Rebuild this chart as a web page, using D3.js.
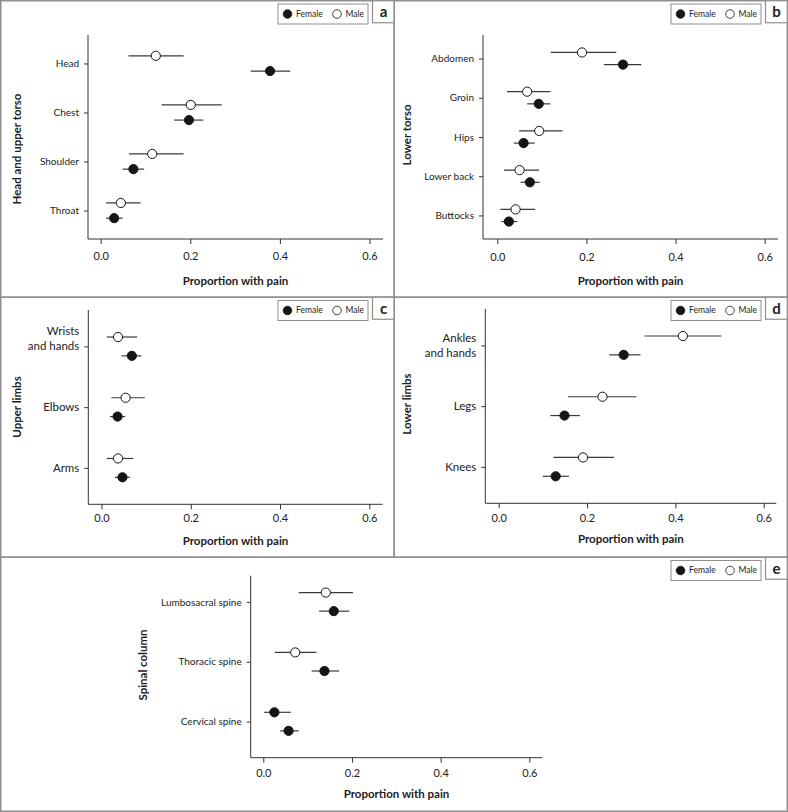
<!DOCTYPE html>
<html>
<head>
<meta charset="utf-8">
<script src="https://cdn.jsdelivr.net/npm/d3@7"></script>
<style>
  body { margin: 0; background: #fff; }
  svg text { font-family: Lato, "Open Sans", sans-serif; fill: #222; }
</style>
</head>
<body>
<div id="chart"></div>
<script>
// proportions with pain, estimate and 95% CI
const xTicks = [0, 0.2, 0.4, 0.6];
const seriesNames = ["Female", "Male"];

// a - head and upper torso
const aCats = ["Head", "Chest", "Shoulder", "Throat"];
const aFemale = [0.378, 0.197, 0.073, 0.030];
const aFemaleLo = [0.335, 0.164, 0.049, 0.012];
const aFemaleHi = [0.423, 0.229, 0.097, 0.049];
const aMale = [0.123, 0.201, 0.115, 0.045];
const aMaleLo = [0.062, 0.136, 0.063, 0.012];
const aMaleHi = [0.185, 0.270, 0.185, 0.089];

// b - lower torso
const bCats = ["Abdomen", "Groin", "Hips", "Lower back", "Buttocks"];
const bFemale = [0.282, 0.093, 0.059, 0.073, 0.026];
const bFemaleLo = [0.239, 0.067, 0.037, 0.052, 0.009];
const bFemaleHi = [0.323, 0.119, 0.084, 0.095, 0.045];
const bMale = [0.190, 0.067, 0.094, 0.050, 0.041];
const bMaleLo = [0.120, 0.022, 0.049, 0.015, 0.007];
const bMaleHi = [0.267, 0.119, 0.146, 0.094, 0.085];

// c - upper limbs
const cCats = ["Wrists\nand hands", "Elbows", "Arms"];
const cFemale = [0.068, 0.036, 0.047];
const cFemaleLo = [0.045, 0.019, 0.030];
const cFemaleHi = [0.089, 0.053, 0.064];
const cMale = [0.037, 0.054, 0.037];
const cMaleLo = [0.012, 0.022, 0.012];
const cMaleHi = [0.080, 0.097, 0.071];

// d - lower limbs
const dCats = ["Ankles\nand hands", "Legs", "Knees"];
const dFemale = [0.283, 0.149, 0.129];
const dFemaleLo = [0.250, 0.117, 0.100];
const dFemaleHi = [0.321, 0.184, 0.159];
const dMale = [0.417, 0.235, 0.191];
const dMaleLo = [0.330, 0.157, 0.124];
const dMaleHi = [0.504, 0.312, 0.261];

// e - spinal column
const eCats = ["Lumbosacral spine", "Thoracic spine", "Cervical spine"];
const eFemale = [0.159, 0.138, 0.057];
const eFemaleLo = [0.126, 0.109, 0.038];
const eFemaleHi = [0.194, 0.171, 0.080];
const eMale = [0.141, 0.072, 0.025];
const eMaleLo = [0.080, 0.026, 0.002];
const eMaleHi = [0.202, 0.120, 0.062];

// in the original figure this male marker is printed filled
const filledMale = ["Cervical spine"];

const W = 788, H = 812;
const frameColor = "#8f8f8f";

const svg = d3.select("#chart").append("svg")
  .attr("width", W)
  .attr("height", H);

const panels = [
  { id: "a", title: "Head and upper torso", cats: aCats,
    f: aFemale, fLo: aFemaleLo, fHi: aFemaleHi, m: aMale, mLo: aMaleLo, mHi: aMaleHi,
    box: [0, 0, 395, 298], axX: 88, axY: 239, top: 35, right: 383, x0: 100.7, x6: 369.5,
    pad: 0.58, align: 0.5, fs: 10, tlOff: 17.5, ttOff: 42, ytX: 17, ytY: 149, mlShift: 0 },
  { id: "b", title: "Lower torso", cats: bCats,
    f: bFemale, fLo: bFemaleLo, fHi: bFemaleHi, m: bMale, mLo: bMaleLo, mHi: bMaleHi,
    box: [393.5, 0, 394.5, 298], axX: 483, axY: 239, top: 35, right: 778, x0: 497.3, x6: 764.7,
    pad: 0.6, align: 0.5, fs: 10, tlOff: 18, ttOff: 42, ytX: 407, ytY: 135, mlShift: 0 },
  { id: "c", title: "Upper limbs", cats: cCats,
    f: cFemale, fLo: cFemaleLo, fHi: cFemaleHi, m: cMale, mLo: cMaleLo, mHi: cMaleHi,
    box: [0, 296.5, 395, 261.5], axX: 88.3, axY: 504.3, top: 310, right: 382.7, x0: 101.5, x6: 369.3,
    pad: 0.6, align: 0.5, fs: 11.5, tlOff: 13.5, ttOff: 37, ytX: 17, ytY: 407, mlShift: -8 },
  { id: "d", title: "Lower limbs", cats: dCats,
    f: dFemale, fLo: dFemaleLo, fHi: dFemaleHi, m: dMale, mLo: dMaleLo, mHi: dMaleHi,
    box: [393.5, 296.5, 394.5, 261.5], axX: 485.3, axY: 503.3, top: 309, right: 776.3, x0: 498.7, x6: 763.7,
    pad: 0.6, align: 0.5, fs: 11.5, tlOff: 14.5, ttOff: 36, ytX: 407, ytY: 404, mlShift: 0 },
  { id: "e", title: "Spinal column", cats: eCats,
    f: eFemale, fLo: eFemaleLo, fHi: eFemaleHi, m: eMale, mLo: eMaleLo, mHi: eMaleHi,
    box: [0, 556.5, 788, 255.5], axX: 250.7, axY: 757.7, top: 575.7, right: 542.3, x0: 263.3, x6: 529.3,
    pad: 0.52, align: 0.42, fs: 10, tlOff: 15.5, ttOff: 36.5, ytX: 143, ytY: 665, mlShift: 0 },
];

panels.forEach(drawPanel);

function drawPanel(p) {
  const [bx, by, bw, bh] = p.box;
  const g = svg.append("g").attr("class", "panel-" + p.id);

  // panel frame
  g.append("rect")
    .attr("x", bx + 0.75).attr("y", by + 0.75)
    .attr("width", bw - 1.5).attr("height", bh - 1.5)
    .attr("fill", "none").attr("stroke", frameColor).attr("stroke-width", 1.5);

  const x = d3.scaleLinear().domain([0, 0.6]).range([p.x0, p.x6]);
  const y = d3.scalePoint().domain(p.cats).range([p.top, p.axY])
    .padding(p.pad).align(p.align);
  const off = y.step() * 0.155;

  // axes lines
  g.append("line")
    .attr("x1", p.axX).attr("x2", p.axX).attr("y1", p.top).attr("y2", p.axY)
    .attr("stroke", "#333").attr("stroke-width", 1);
  g.append("line")
    .attr("x1", p.axX).attr("x2", p.right).attr("y1", p.axY).attr("y2", p.axY)
    .attr("stroke", "#333").attr("stroke-width", 1);

  // x axis
  const xa = g.append("g")
    .attr("transform", `translate(0,${p.axY})`)
    .call(d3.axisBottom(x).tickValues(xTicks).tickFormat(d3.format(".1f")).tickSize(5));
  xa.select(".domain").remove();
  xa.selectAll(".tick line").attr("stroke", "#333");
  xa.selectAll(".tick text")
    .attr("y", p.tlOff).attr("dy", "0.35em")
    .attr("font-size", 11).attr("fill", "#333")
    .style("font-family", "Lato, sans-serif");

  g.append("text")
    .attr("x", (p.axX + p.right) / 2)
    .attr("y", p.axY + p.ttOff)
    .attr("dy", "0.35em")
    .attr("text-anchor", "middle")
    .attr("font-size", 11.5).attr("font-weight", "bold")
    .text("Proportion with pain");

  // y axis
  const ya = g.append("g")
    .attr("transform", `translate(${p.axX},0)`)
    .call(d3.axisLeft(y).tickSize(4).tickPadding(5));
  ya.select(".domain").remove();
  ya.selectAll(".tick line").attr("stroke", "#333");
  ya.selectAll(".tick text")
    .attr("font-size", p.fs).attr("fill", "#333")
    .style("font-family", "Lato, sans-serif")
    .each(function (d) {
      const lines = d.split("\n");
      if (lines.length < 2) return;
      const t = d3.select(this).text(null).attr("dy", null);
      const lh = p.fs * 1.3;
      lines.forEach((ln, i) => {
        t.append("tspan")
          .attr("x", -9)
          .attr("y", p.mlShift + (i - (lines.length - 1) / 2) * lh)
          .attr("dy", "0.35em")
          .text(ln);
      });
    });

  g.append("text")
    .attr("transform", `translate(${p.ytX},${p.ytY}) rotate(-90)`)
    .attr("dy", "0.35em")
    .attr("text-anchor", "middle")
    .attr("font-size", 11.5).attr("font-weight", "bold")
    .text(p.title);

  // rows: male above, female below
  const rows = p.cats.map((c, i) => [
    { cat: c, sex: "Male", est: p.m[i], lo: p.mLo[i], hi: p.mHi[i], dy: -off },
    { cat: c, sex: "Female", est: p.f[i], lo: p.fLo[i], hi: p.fHi[i], dy: off },
  ]).flat();

  g.selectAll("line.ci")
    .data(rows)
    .enter()
    .append("line")
    .attr("class", "ci")
    .attr("x1", (d) => x(d.lo))
    .attr("x2", (d) => x(d.hi))
    .attr("y1", (d) => y(d.cat) + d.dy)
    .attr("y2", (d) => y(d.cat) + d.dy)
    .attr("stroke", "#3a3a3a")
    .attr("stroke-width", 1.2);

  g.selectAll("circle.pt")
    .data(rows)
    .enter()
    .append("circle")
    .attr("class", "pt")
    .attr("cx", (d) => x(d.est))
    .attr("cy", (d) => y(d.cat) + d.dy)
    .attr("r", 4.6)
    .attr("fill", (d) => d.sex === "Female" || filledMale.includes(d.cat) ? "#151515" : "#fff")
    .attr("stroke", "#151515")
    .attr("stroke-width", 1);

  // legend box + panel letter, top right corner of the panel
  const right = bx + bw;
  const lg = g.append("g").attr("transform", `translate(${right - 117},${by + 4})`);
  lg.append("rect")
    .attr("width", 90).attr("height", 20)
    .attr("fill", "#fff").attr("stroke", frameColor).attr("stroke-width", 1);
  seriesNames.forEach((s, i) => {
    const ox = 9.5 + i * 49.5;
    lg.append("circle")
      .attr("cx", ox).attr("cy", 10).attr("r", 4.3)
      .attr("fill", s === "Female" ? "#151515" : "#fff")
      .attr("stroke", "#151515").attr("stroke-width", 0.8);
    lg.append("text")
      .attr("x", ox + 8.5).attr("y", 10).attr("dy", "0.35em")
      .attr("font-size", 8.5).attr("fill", "#333")
      .text(s);
  });

  g.append("rect")
    .attr("x", right - 22.5).attr("y", by + 0.75)
    .attr("width", 21.75).attr("height", 22)
    .attr("fill", "#fff").attr("stroke", frameColor).attr("stroke-width", 1.2);
  g.append("text")
    .attr("x", right - 11.5).attr("y", by + 12)
    .attr("dy", "0.35em")
    .attr("text-anchor", "middle")
    .attr("font-size", 15).attr("font-weight", "bold")
    .text(p.id);
}
</script>
</body>
</html>
